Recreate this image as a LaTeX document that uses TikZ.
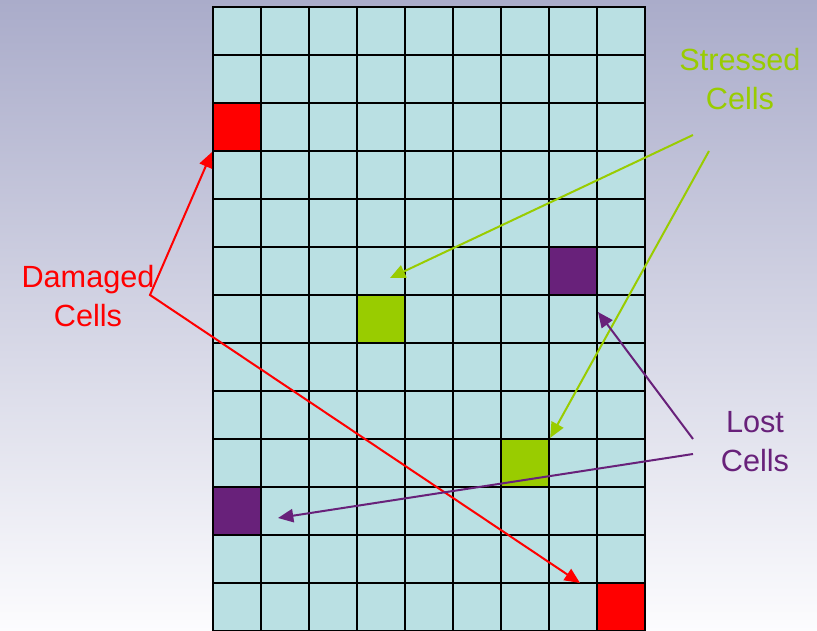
\documentclass[tikz,border=0pt]{standalone}
\usepackage{fontspec}
\setmainfont{Liberation Sans}
\usetikzlibrary{arrows.meta}
\definecolor{bgtop}{RGB}{170,172,202}
\definecolor{bgbottom}{RGB}{252,252,254}
\definecolor{cellcolor}{RGB}{186,224,227}
\definecolor{damagedcolor}{RGB}{255,0,0}
\definecolor{stressedcolor}{RGB}{153,204,0}
\definecolor{lostcolor}{RGB}{104,33,122}

\begin{document}
\begin{tikzpicture}[
    x=0.75pt, y=-0.75pt,
    font=\fontsize{23}{29.25}\selectfont,
    cell/.style={
        rectangle,
        draw=black,
        line width=1.7pt,
        fill=cellcolor,
        minimum size=36pt,
        inner sep=0pt
    },
    cellnote/.style={align=center, inner sep=0pt, anchor=base},
    pointer/.style={-{Triangle[length=11.5pt, width=10pt]}, line width=1.5pt}
]

% Background
\useasboundingbox (0,0) rectangle (817,631);
\shade [top color=bgtop, bottom color=bgbottom] (0,0) rectangle (817,631);

%% GRID - 9 columns x 13 rows %%
\foreach \c in {0,...,8} {
    \foreach \r in {0,...,12} {
        \node (c\c-\r) [cell] at (237+48*\c, 31+48*\r) {};
    }
}

%% HIGHLIGHTED CELLS %%
\node (damaged1) [cell, fill=damagedcolor] at (c0-2) {};
\node (damaged2) [cell, fill=damagedcolor] at (c8-12) {};
\node (stressed1) [cell, fill=stressedcolor] at (c3-6) {};
\node (stressed2) [cell, fill=stressedcolor] at (c6-9) {};
\node (lost1) [cell, fill=lostcolor] at (c7-5) {};
\node (lost2) [cell, fill=lostcolor] at (c0-10) {};

%% LABELS %%
\node (damaged_label) [cellnote, text=damagedcolor] at (88,326) {Damaged\\Cells};
\node (stressed_label) [cellnote, text=stressedcolor] at (740,110) {Stressed\\Cells};
\node (lost_label) [cellnote, text=lostcolor] at (755,471) {Lost\\Cells};

%% ARROW ENDS %%
\coordinate (damaged_bend) at (150,295);
\coordinate (damaged_tip) at (580,583);
\coordinate (stressed_start1) at (693,135);
\coordinate (stressed_start2) at (709,151);
\coordinate (stressed_tip) at (390,278);
\coordinate (lost_start1) at (693,439);
\coordinate (lost_start2) at (693,454);
\coordinate (lost_tip1) at (598,312);
\coordinate (lost_tip2) at (278,518);

%% ARROWS %%
\draw [pointer, {Triangle[length=11.5pt, width=10pt]}-{Triangle[length=11.5pt, width=10pt]}, draw=damagedcolor]
    (damaged1.south west) -- (damaged_bend) -- (damaged_tip);

\draw [pointer, draw=stressedcolor] (stressed_start1) -- (stressed_tip);
\draw [pointer, draw=stressedcolor] (stressed_start2) -- (stressed2.north east);

\draw [pointer, draw=lostcolor] (lost_start1) -- (lost_tip1);
\draw [pointer, draw=lostcolor] (lost_start2) -- (lost_tip2);

\end{tikzpicture}
\end{document}
